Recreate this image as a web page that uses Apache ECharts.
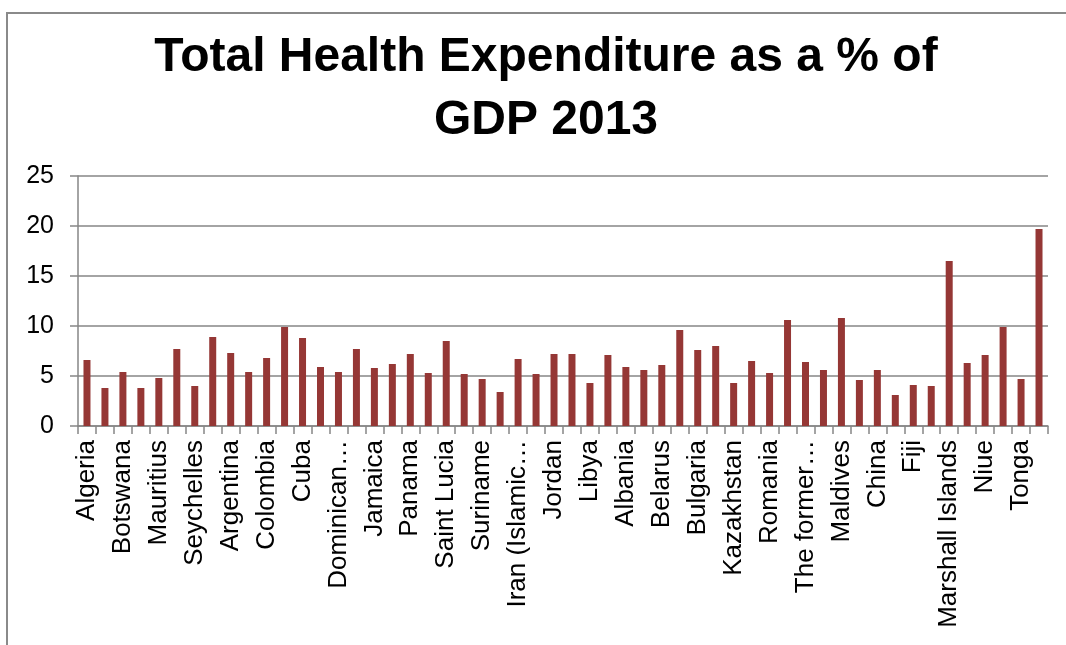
<!DOCTYPE html>
<html>
<head>
<meta charset="utf-8">
<title>Total Health Expenditure as a % of GDP 2013</title>
<script src="https://cdn.jsdelivr.net/npm/echarts@6/dist/echarts.min.js"></script>
<style>
  html, body { margin: 0; padding: 0; background: #fff; }
  #chart { width: 1066px; height: 645px; }
</style>
</head>
<body>
<div id="chart"></div>
<script>
/** countries as labelled on the axis (every other one is shown) */
const countries = [
  "Algeria", "Angola", "Botswana", "Gabon", "Mauritius", "Namibia",
  "Seychelles", "South Africa", "Argentina", "Belize", "Colombia", "Costa Rica",
  "Cuba", "Dominica", "Dominican\u2026", "Ecuador", "Jamaica", "Mexico",
  "Panama", "Peru", "Saint Lucia", "Saint Vincent\u2026", "Suriname", "Venezuela\u2026",
  "Iran (Islamic\u2026", "Iraq", "Jordan", "Lebanon", "Libya", "Tunisia",
  "Albania", "Azerbaijan", "Belarus", "Bosnia and\u2026", "Bulgaria", "Hungary",
  "Kazakhstan", "Montenegro", "Romania", "Serbia", "The former\u2026", "Turkey",
  "Maldives", "Thailand", "China", "Cook Islands", "Fiji", "Malaysia",
  "Marshall Islands", "Nauru", "Niue", "Palau", "Tonga", "Tuvalu",
];

/** total health expenditure, % of GDP */
const expenditure = [
  6.6, 3.8, 5.4, 3.8, 4.8, 7.7,
  4.0, 8.9, 7.3, 5.4, 6.8, 9.9,
  8.8, 5.9, 5.4, 7.7, 5.8, 6.2,
  7.2, 5.3, 8.5, 5.2, 4.7, 3.4,
  6.7, 5.2, 7.2, 7.2, 4.3, 7.1,
  5.9, 5.6, 6.1, 9.6, 7.6, 8.0,
  4.3, 6.5, 5.3, 10.6, 6.4, 5.6,
  10.8, 4.6, 5.6, 3.1, 4.1, 4.0,
  16.5, 6.3, 7.1, 9.9, 4.7, 19.7,
];

const yTicks = { min: 0, max: 25, step: 5 };

const font = "'Liberation Sans', Arial, sans-serif";
const axisGray = "#868686";

const chart = echarts.init(document.getElementById("chart"), undefined, { renderer: "canvas" });

const option = {
  animation: false,
  backgroundColor: "#fff",

  title: {
    text: "Total Health Expenditure as a % of\nGDP 2013",
    left: 541,
    top: 21,
    textAlign: "center",
    textStyle: {
      fontFamily: font,
      fontSize: 48,
      fontWeight: "bold",
      lineHeight: 63,
      color: "#000",
    },
  },

  /** outer chart border, as in the spreadsheet export */
  graphic: [
    {
      type: "polyline",
      silent: true,
      shape: { points: [[7, 645], [7, 13], [1066, 13]] },
      style: { stroke: "#8a8a8a", lineWidth: 2, fill: null },
    },
  ],

  grid: { left: 78, right: 18, top: 176, bottom: 219, containLabel: false },

  xAxis: {
    type: "category",
    data: countries,
    boundaryGap: true,
    axisLine: { lineStyle: { color: axisGray, width: 1.5 } },
    axisTick: { show: true, interval: 0, length: 8, lineStyle: { color: axisGray, width: 1.5 } },
    axisLabel: {
      interval: 1,
      rotate: 90,
      margin: 14,
      color: "#000",
      fontFamily: font,
      fontSize: 26,
    },
  },

  yAxis: {
    type: "value",
    min: yTicks.min,
    max: yTicks.max,
    interval: yTicks.step,
    axisLine: { show: true, lineStyle: { color: axisGray, width: 1.5 } },
    axisTick: { show: true, length: 8, lineStyle: { color: axisGray, width: 1.5 } },
    splitLine: { lineStyle: { color: axisGray, width: 1.5 } },
    axisLabel: {
      margin: 24,
      color: "#000",
      fontFamily: font,
      fontSize: 25,
    },
  },

  series: [
    {
      type: "bar",
      data: expenditure,
      barWidth: 7,
      itemStyle: { color: "#953735" },
    },
  ],
};

chart.setOption(option);
</script>
</body>
</html>
